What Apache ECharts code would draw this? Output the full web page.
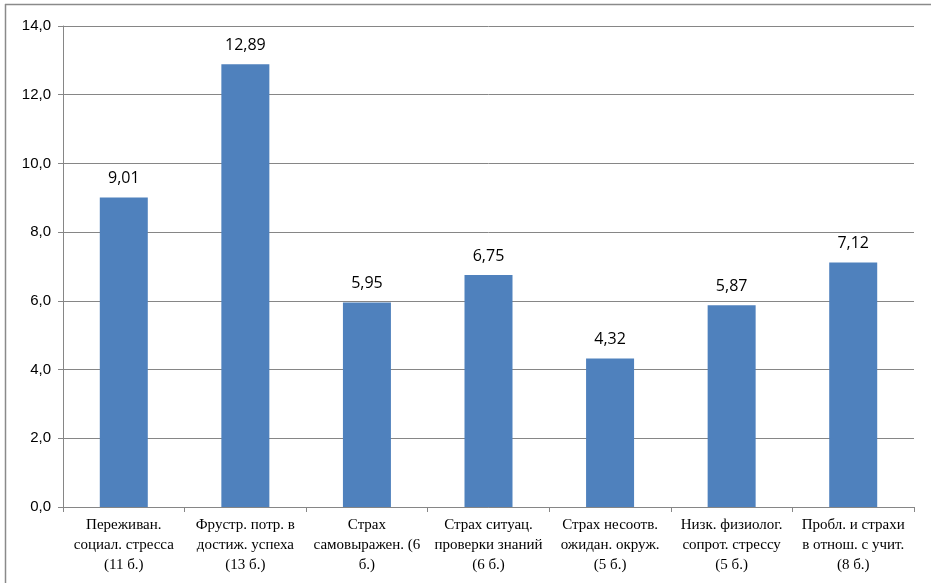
<!DOCTYPE html>
<html>
<head>
<meta charset="utf-8">
<script src="https://cdn.jsdelivr.net/npm/echarts@6/dist/echarts.min.js"></script>
<style>
html, body { margin: 0; padding: 0; background: #fff; }
#chart { width: 931px; height: 583px; }
</style>
</head>
<body>
<div id="chart"></div>
<script>
// Scale categories (each shown on three lines) and mean scores
const categories = [
  'Переживан.\nсоциал. стресса\n(11 б.)',
  'Фрустр. потр. в\nдостиж. успеха\n(13 б.)',
  'Страх\nсамовыражен. (6\nб.)',
  'Страх ситуац.\nпроверки знаний\n(6 б.)',
  'Страх несоотв.\nожидан. окруж.\n(5 б.)',
  'Низк. физиолог.\nсопрот. стрессу\n(5 б.)',
  'Пробл. и страхи\nв отнош. с учит.\n(8 б.)'
];
const values = [9.01, 12.89, 5.95, 6.75, 4.32, 5.87, 7.12];
const yTicks = { min: 0, max: 14, step: 2 };

const chart = echarts.init(document.getElementById('chart'));
const axisGray = '#868686';

chart.setOption({
  animation: false,
  grid: { left: 63, right: 17, top: 26, bottom: 76 },
  graphic: [
    { type: 'line', shape: { x1: 5, y1: 4.5, x2: 931, y2: 4.5 }, style: { stroke: '#8a8a8a', lineWidth: 1.5 }, silent: true },
    { type: 'line', shape: { x1: 5.5, y1: 4, x2: 5.5, y2: 583 }, style: { stroke: '#8a8a8a', lineWidth: 1.5 }, silent: true }
  ],
  xAxis: {
    type: 'category',
    data: categories,
    axisLine: { lineStyle: { color: axisGray, width: 1 } },
    axisTick: { show: true, alignWithLabel: false, length: 5, lineStyle: { color: axisGray } },
    axisLabel: {
      interval: 0,
      margin: 8,
      fontFamily: '"Liberation Serif", "Times New Roman", serif',
      fontSize: 15,
      lineHeight: 20,
      color: '#000'
    }
  },
  yAxis: {
    type: 'value',
    min: yTicks.min,
    max: yTicks.max,
    interval: yTicks.step,
    axisLine: { show: true, lineStyle: { color: axisGray, width: 1 } },
    axisTick: { show: true, length: 5, lineStyle: { color: axisGray } },
    splitLine: { show: true, lineStyle: { color: axisGray, width: 1 } },
    axisLabel: {
      margin: 12,
      fontFamily: '"Liberation Sans", Arial, sans-serif',
      fontSize: 15,
      color: '#000',
      formatter: v => v.toFixed(1).replace('.', ',')
    }
  },
  series: [{
    type: 'bar',
    data: values,
    barWidth: 48,
    itemStyle: { color: '#4F81BD' },
    label: {
      show: true,
      position: 'top',
      distance: 11,
      fontFamily: '"Open Sans", "Liberation Sans", sans-serif',
      fontSize: 16,
      color: '#000',
      formatter: p => p.value.toFixed(2).replace('.', ',')
    }
  }]
});
</script>
</body>
</html>
